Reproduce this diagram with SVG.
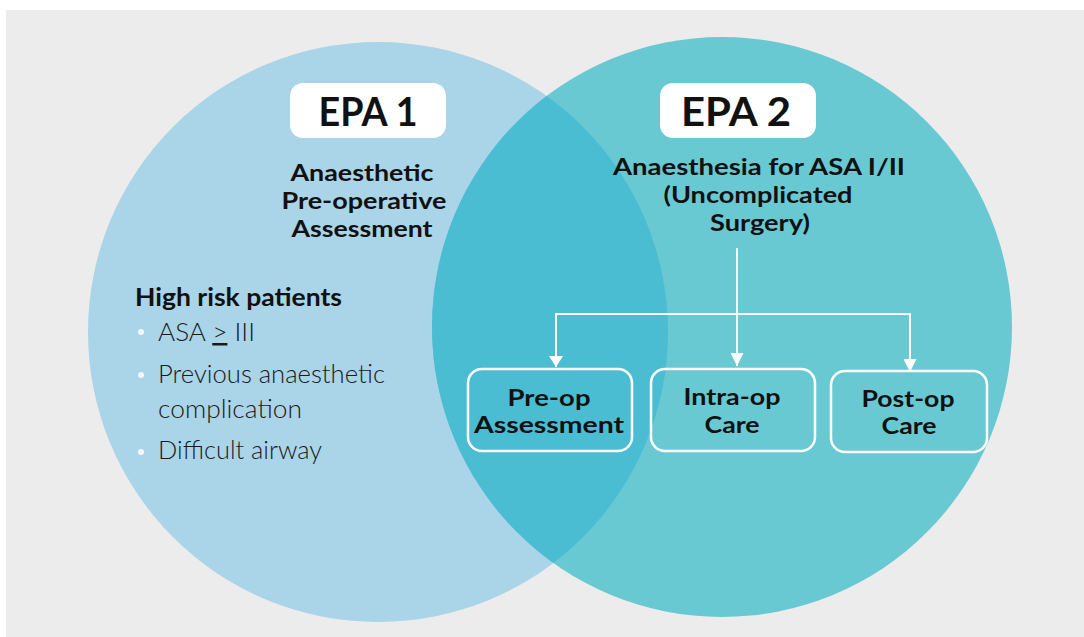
<svg xmlns="http://www.w3.org/2000/svg" width="1084" height="637" viewBox="0 0 1084 637">
<defs>
<style>
.b{font-family:Lato,"Open Sans","Liberation Sans",sans-serif;font-weight:700;fill:#111;text-anchor:middle}
.l{font-family:Lato,"Open Sans","Liberation Sans",sans-serif;font-weight:300;fill:#1a1a1a}
.box{fill:none;stroke:#fff;stroke-width:2.5}
.conn{fill:none;stroke:#fff;stroke-width:2}
</style>
<clipPath id="c2"><circle cx="722" cy="327" r="290"/></clipPath>
<marker id="ah" viewBox="0 0 10 10" refX="10" refY="5" markerWidth="13" markerHeight="13" markerUnits="userSpaceOnUse" orient="auto"><path d="M0,0 L10,5 L0,10 Z" fill="#fff"/></marker>
</defs>
<rect x="0" y="0" width="1084" height="637" fill="#fff"/>
<rect x="6" y="10" width="1078" height="627" fill="#ececec"/>
<g id="circle1"><circle cx="378" cy="332" r="290" fill="#aad4e7"/></g>
<g id="circle2"><circle cx="722" cy="327" r="290" fill="#69c9d3"/></g>
<g id="overlap"><circle cx="378" cy="332" r="290" fill="#4bbdd2" clip-path="url(#c2)"/></g>

<g id="epa1">
<rect x="290" y="83" width="156" height="55" rx="13" fill="#fff"/>
<text class="b" x="368" y="126" font-size="40" textLength="99" lengthAdjust="spacingAndGlyphs">EPA 1</text>
<text class="b" x="362" y="181" font-size="23" textLength="143" lengthAdjust="spacingAndGlyphs">Anaesthetic</text>
<text class="b" x="364" y="209" font-size="23" textLength="165" lengthAdjust="spacingAndGlyphs">Pre-operative</text>
<text class="b" x="362" y="237" font-size="23" textLength="141" lengthAdjust="spacingAndGlyphs">Assessment</text>
</g>

<g id="epa2">
<rect x="660" y="83" width="156" height="55" rx="13" fill="#fff"/>
<text class="b" x="736" y="126" font-size="40" textLength="110" lengthAdjust="spacingAndGlyphs">EPA 2</text>
<text class="b" x="759" y="175" font-size="23" textLength="292" lengthAdjust="spacingAndGlyphs">Anaesthesia for ASA I/II</text>
<text class="b" x="758" y="203" font-size="23" textLength="189" lengthAdjust="spacingAndGlyphs">(Uncomplicated</text>
<text class="b" x="760" y="231" font-size="23" textLength="100" lengthAdjust="spacingAndGlyphs">Surgery)</text>
</g>

<g id="risk">
<text class="b" x="135" y="306" font-size="24" style="text-anchor:start" textLength="207" lengthAdjust="spacingAndGlyphs">High risk patients</text>
<circle cx="141" cy="332" r="3" fill="#f4f8fb"/>
<circle cx="141" cy="375" r="3" fill="#f4f8fb"/>
<circle cx="141" cy="452" r="3" fill="#f4f8fb"/>
<text class="l" x="158" y="341" font-size="25" textLength="97" lengthAdjust="spacingAndGlyphs">ASA <tspan text-decoration="underline">&gt;</tspan> III</text>
<text class="l" x="158" y="383" font-size="25" textLength="227" lengthAdjust="spacingAndGlyphs">Previous anaesthetic</text>
<text class="l" x="158" y="418" font-size="25" textLength="144" lengthAdjust="spacingAndGlyphs">complication</text>
<text class="l" x="158" y="459" font-size="25" textLength="164" lengthAdjust="spacingAndGlyphs">Difficult airway</text>
</g>

<g id="connectors">
<line class="conn" x1="737" y1="248" x2="737" y2="366" marker-end="url(#ah)"/>
<polyline class="conn" points="556,367 556,314 910,314 910,372" marker-end="url(#ah)"/>
<path d="M549,356 L563,356 L556,367 Z" fill="#fff"/>
</g>

<g id="preop">
<rect class="box" x="468" y="369" width="164" height="82" rx="14"/>
<text class="b" x="549" y="406" font-size="23" textLength="83" lengthAdjust="spacingAndGlyphs">Pre-op</text>
<text class="b" x="549" y="433" font-size="23" textLength="150" lengthAdjust="spacingAndGlyphs">Assessment</text>
</g>
<g id="intraop">
<rect class="box" x="651" y="369" width="164" height="82" rx="14"/>
<text class="b" x="732" y="405" font-size="23" textLength="97" lengthAdjust="spacingAndGlyphs">Intra-op</text>
<text class="b" x="732" y="433" font-size="23" textLength="55" lengthAdjust="spacingAndGlyphs">Care</text>
</g>
<g id="postop">
<rect class="box" x="831" y="371" width="156" height="81" rx="14"/>
<text class="b" x="908" y="407" font-size="23" textLength="93" lengthAdjust="spacingAndGlyphs">Post-op</text>
<text class="b" x="909" y="434" font-size="23" textLength="55" lengthAdjust="spacingAndGlyphs">Care</text>
</g>
</svg>
